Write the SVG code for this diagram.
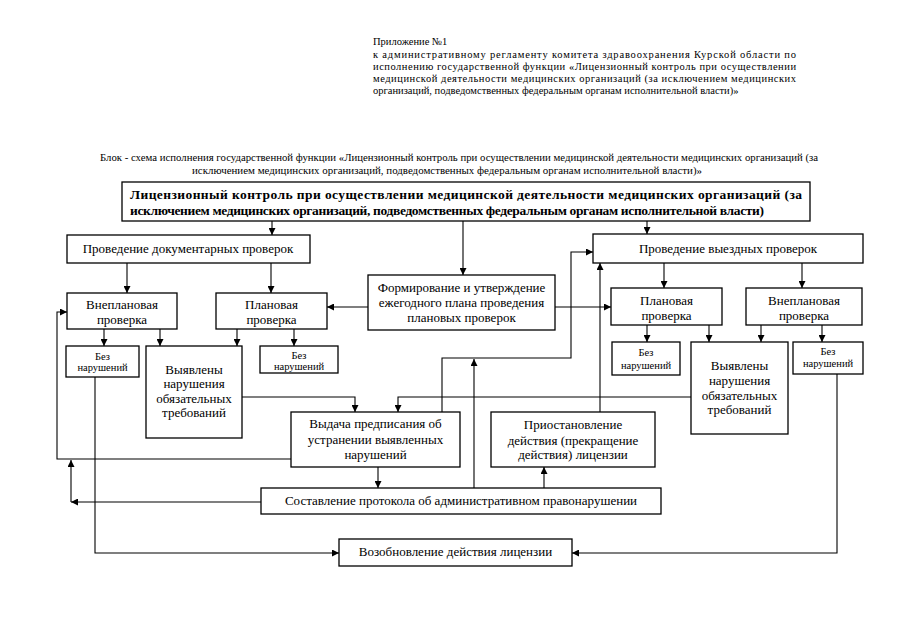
<svg xmlns="http://www.w3.org/2000/svg" width="905" height="640" viewBox="0 0 905 640">
<defs>
<marker id="ah" viewBox="0 0 10 10" refX="10" refY="5" markerWidth="7" markerHeight="7" markerUnits="userSpaceOnUse" orient="auto">
<path d="M0,0 L10,5 L0,10 z" fill="#000"/>
</marker>
<style>
.bx{fill:#fff;stroke:#000;stroke-width:1.3}
.t{font-family:"Liberation Serif","Times New Roman",serif;font-size:13px;fill:#000;text-anchor:middle}
.s{font-family:"Liberation Serif","Times New Roman",serif;font-size:10.5px;fill:#000;text-anchor:middle}
.h{font-family:"Liberation Serif","Times New Roman",serif;font-size:10.5px;fill:#000}
.m{font-family:"Liberation Serif","Times New Roman",serif;font-size:13.5px;font-weight:bold;fill:#000}
.c{fill:none;stroke:#000;stroke-width:1.1}
.a{fill:none;stroke:#000;stroke-width:1.1;marker-end:url(#ah)}
</style>
</defs>
<rect width="905" height="640" fill="#fff"/>

<g id="header">
<text class="h" x="373" y="45">Приложение №1</text>
<text class="h" x="373" y="58" textLength="423" lengthAdjust="spacing">к административному регламенту комитета здравоохранения Курской области по</text>
<text class="h" x="373" y="70" textLength="423" lengthAdjust="spacing">исполнению государственной функции «Лицензионный контроль при осуществлении</text>
<text class="h" x="373" y="82" textLength="423" lengthAdjust="spacing">медицинской деятельности медицинских организаций (за исключением медицинских</text>
<text class="h" x="373" y="94">организаций, подведомственных федеральным органам исполнительной власти)»</text>
</g>

<g id="title">
<text class="h" x="100" y="161" textLength="718" lengthAdjust="spacingAndGlyphs">Блок - схема исполнения государственной функции «Лицензионный контроль при осуществлении медицинской деятельности медицинских организаций (за</text>
<text class="h" x="192" y="174" textLength="510" lengthAdjust="spacingAndGlyphs">исключением медицинских организаций, подведомственных федеральным органам исполнительной власти)»</text>
</g>

<g id="main">
<rect class="bx" x="122" y="182" width="688" height="39"/>
<text class="m" x="130" y="199" textLength="672" lengthAdjust="spacing">Лицензионный контроль при осуществлении медицинской деятельности медицинских организаций (за</text>
<text class="m" x="130" y="215" textLength="634" lengthAdjust="spacing">исключением медицинских организаций, подведомственных федеральным органам исполнительной власти)</text>
</g>

<g id="doc">
<rect class="bx" x="67" y="235" width="243" height="28"/>
<text class="t" x="188" y="253">Проведение документарных проверок</text>
</g>

<g id="field">
<rect class="bx" x="593" y="234" width="270" height="29"/>
<text class="t" x="728" y="253">Проведение выездных проверок</text>
</g>

<g id="plan">
<rect class="bx" x="368" y="275" width="187" height="55"/>
<text class="t" x="461.5" y="292">Формирование и утверждение</text>
<text class="t" x="461.5" y="307">ежегодного плана проведения</text>
<text class="t" x="461.5" y="322">плановых  проверок</text>
</g>

<g id="unplanL">
<rect class="bx" x="67" y="293" width="110" height="36"/>
<text class="t" x="122" y="309">Внеплановая</text>
<text class="t" x="122" y="324">проверка</text>
</g>

<g id="planL">
<rect class="bx" x="216" y="293" width="111" height="36"/>
<text class="t" x="271.5" y="309">Плановая</text>
<text class="t" x="271.5" y="324">проверка</text>
</g>

<g id="okL1">
<rect class="bx" x="66" y="346" width="73" height="31"/>
<text class="s" x="102.5" y="360">Без</text>
<text class="s" x="102.5" y="371">нарушений</text>
</g>

<g id="violL">
<rect class="bx" x="146" y="346" width="96" height="92"/>
<text class="t" x="194" y="374">Выявлены</text>
<text class="t" x="194" y="388">нарушения</text>
<text class="t" x="194" y="403">обязательных</text>
<text class="t" x="194" y="417">требований</text>
</g>

<g id="okL2">
<rect class="bx" x="260" y="346" width="78" height="27"/>
<text class="s" x="299" y="359">Без</text>
<text class="s" x="299" y="370">нарушений</text>
</g>

<g id="planR">
<rect class="bx" x="611" y="288" width="111" height="37"/>
<text class="t" x="666.5" y="305">Плановая</text>
<text class="t" x="666.5" y="320">проверка</text>
</g>

<g id="unplanR">
<rect class="bx" x="746" y="288" width="116" height="37"/>
<text class="t" x="804" y="305">Внеплановая</text>
<text class="t" x="804" y="320">проверка</text>
</g>

<g id="okR1">
<rect class="bx" x="612" y="342" width="68" height="33"/>
<text class="s" x="646" y="356">Без</text>
<text class="s" x="646" y="369">нарушений</text>
</g>

<g id="violR">
<rect class="bx" x="691" y="342" width="97" height="92"/>
<text class="t" x="739.5" y="370">Выявлены</text>
<text class="t" x="739.5" y="385">нарушения</text>
<text class="t" x="739.5" y="400">обязательных</text>
<text class="t" x="739.5" y="414">требований</text>
</g>

<g id="okR2">
<rect class="bx" x="793" y="342" width="70" height="32"/>
<text class="s" x="828" y="355">Без</text>
<text class="s" x="828" y="367">нарушений</text>
</g>

<g id="order">
<rect class="bx" x="291" y="412" width="169" height="55"/>
<text class="t" x="375.5" y="428">Выдача предписания об</text>
<text class="t" x="375.5" y="444">устранении выявленных</text>
<text class="t" x="375.5" y="459">нарушений</text>
</g>

<g id="suspend">
<rect class="bx" x="491" y="412" width="164" height="55"/>
<text class="t" x="573" y="429">Приостановление</text>
<text class="t" x="573" y="445">действия  (прекращение</text>
<text class="t" x="573" y="459">действия) лицензии</text>
</g>

<g id="protocol">
<rect class="bx" x="261" y="488" width="400" height="26"/>
<text class="t" x="461" y="505">Составление протокола об административном правонарушении</text>
</g>

<g id="renew">
<rect class="bx" x="339" y="539" width="233" height="27"/>
<text class="t" x="455.5" y="556">Возобновление действия лицензии</text>
</g>

<g id="connectors">
<line class="a" x1="272" y1="221" x2="272" y2="235"/>
<line class="a" x1="463" y1="221" x2="463" y2="275"/>
<line class="a" x1="647" y1="221" x2="647" y2="234"/>
<line class="a" x1="127" y1="263" x2="127" y2="293"/>
<line class="a" x1="271" y1="263" x2="271" y2="293"/>
<line class="a" x1="368" y1="307" x2="327" y2="307"/>
<line class="a" x1="555" y1="307" x2="611" y2="307"/>
<line class="a" x1="664" y1="263" x2="664" y2="288"/>
<line class="a" x1="802" y1="263" x2="802" y2="288"/>
<line class="a" x1="104" y1="329" x2="104" y2="346"/>
<line class="a" x1="160" y1="329" x2="160" y2="346"/>
<line class="a" x1="237" y1="329" x2="237" y2="346"/>
<line class="a" x1="294" y1="329" x2="294" y2="346"/>
<line class="a" x1="647" y1="325" x2="647" y2="342"/>
<line class="a" x1="709" y1="325" x2="709" y2="342"/>
<line class="a" x1="761" y1="325" x2="761" y2="342"/>
<line class="a" x1="822" y1="325" x2="822" y2="342"/>
<polyline class="a" points="242,397 355,397 355,412"/>
<polyline class="a" points="691,397 398,397 398,412"/>
<polyline class="a" points="442,412 442,358 571,358 571,252 593,252"/>
<line class="a" x1="474" y1="488" x2="474" y2="359"/>
<line class="a" x1="600" y1="412" x2="600" y2="263"/>
<line class="a" x1="378" y1="467" x2="378" y2="488"/>
<line class="a" x1="544" y1="488" x2="544" y2="467"/>
<polyline class="a" points="291,459 57,459 57,312 67,312"/>
<line class="a" x1="261" y1="502" x2="71" y2="502"/>
<line class="a" x1="71" y1="502" x2="71" y2="460"/>
<polyline class="a" points="95,377 95,553 339,553"/>
<polyline class="a" points="837,374 837,553 572,553"/>
</g>
</svg>
